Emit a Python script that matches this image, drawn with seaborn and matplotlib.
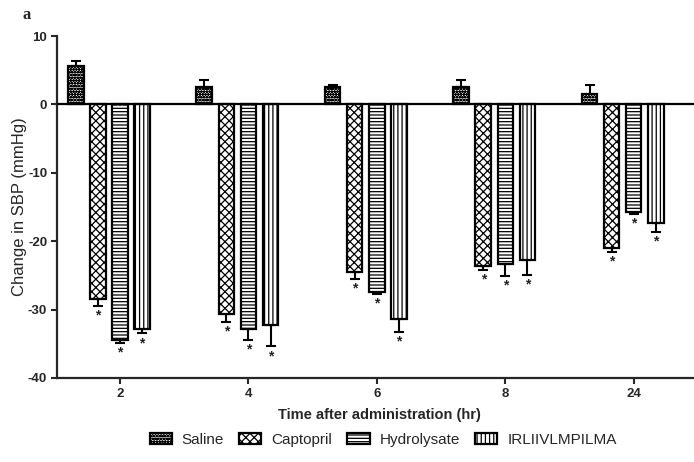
import numpy as np
import pandas as pd
import seaborn as sns
import matplotlib.pyplot as plt

# values
times = ['2', '4', '6', '8', '24']
groups = ['Saline', 'Captopril', 'Hydrolysate', 'IRLIIVLMPILMA']
saline = [5.6, 2.6, 2.5, 2.6, 1.5]
captopril = [-28.5, -30.6, -24.5, -23.7, -21.0]
hydrolysate = [-34.4, -32.8, -27.5, -23.4, -15.7]
irl = [-32.8, -32.3, -31.4, -22.8, -17.3]
saline_err = [0.8, 0.9, 0.4, 1.0, 1.3]
captopril_err = [1.0, 1.2, 1.0, 0.5, 0.6]
hydrolysate_err = [0.5, 1.7, 0.2, 1.7, 0.3]
irl_err = [0.7, 3.1, 1.9, 2.1, 1.4]
significant = [False, True, True, True]

values = [saline, captopril, hydrolysate, irl]
errors = [saline_err, captopril_err, hydrolysate_err, irl_err]
hatches = ['oooooo', 'xxxx', '-----', '||||']

df = pd.DataFrame({
    'time': np.tile(times, len(groups)),
    'group': np.repeat(groups, len(times)),
    'value': np.concatenate(values),
})

sns.set_style('ticks')
plt.rcParams['font.family'] = ['Liberation Sans', 'DejaVu Sans']
plt.rcParams['hatch.linewidth'] = 0.9

fig = plt.figure(figsize=(6.94, 4.62), dpi=100)
ax = fig.add_axes([0.082, 0.182, 0.93, 0.74])

sns.barplot(data=df, x='time', y='value', hue='group', order=times, hue_order=groups,
            width=0.688, gap=0.3, errorbar=None, palette=['white'] * 4,
            edgecolor='black', linewidth=1.6, legend=False, ax=ax)

for container, hatch, vals, errs, sig in zip(ax.containers, hatches, values, errors, significant):
    xs = []
    for bar in container:
        bar.set_hatch(hatch)
        xs.append(bar.get_x() + bar.get_width() / 2)
    vals = np.array(vals)
    errs = np.array(errs)
    lower = np.where(vals < 0, errs, 0)
    upper = np.where(vals > 0, errs, 0)
    ax.errorbar(xs, vals, yerr=[lower, upper], fmt='none', ecolor='black',
                elinewidth=1.5, capsize=3.5, capthick=1.5, zorder=0.5)
    if sig:
        for x, v, e in zip(xs, vals, errs):
            ax.text(x, v - e - 1.4, '*', ha='center', va='center',
                    fontsize=10, fontweight='bold', color='#222222')

ax.axhline(0, color='black', lw=1.6, zorder=3)

# ticks sit under the third bar of each group
hyd_bars = ax.containers[2]
ax.set_xticks([b.get_x() + b.get_width() / 2 for b in hyd_bars])
ax.set_xticklabels(times, fontweight='bold', fontsize=9.5)
ax.set_xlim(-0.405, 4.62)
ax.set_ylim(-40, 10)
ax.set_yticks([-40, -30, -20, -10, 0, 10])
ax.set_yticklabels(['-40', '-30', '-20', '-10', '0', '10'], fontweight='bold', fontsize=9.5)
ax.tick_params(width=1.5, length=4, pad=3)

sns.despine(ax=ax)
for side in ['left', 'bottom']:
    ax.spines[side].set_linewidth(1.6)

ax.set_ylabel('Change in SBP (mmHg)', fontsize=12, labelpad=1)
ax.set_xlabel('Time after administration (hr)', fontweight='bold', fontsize=10.5, labelpad=6)

fig.legend(ax.containers, groups, loc='center', bbox_to_anchor=(0.552, 0.048), ncol=4,
           frameon=False, fontsize=11, handlelength=1.45, handleheight=0.8,
           columnspacing=1.0, handletextpad=0.65)

fig.text(0.032, 0.968, 'a', family='Liberation Serif', fontweight='bold', fontsize=12,
         ha='left', va='center')

fig.savefig('out.png', dpi=100)
